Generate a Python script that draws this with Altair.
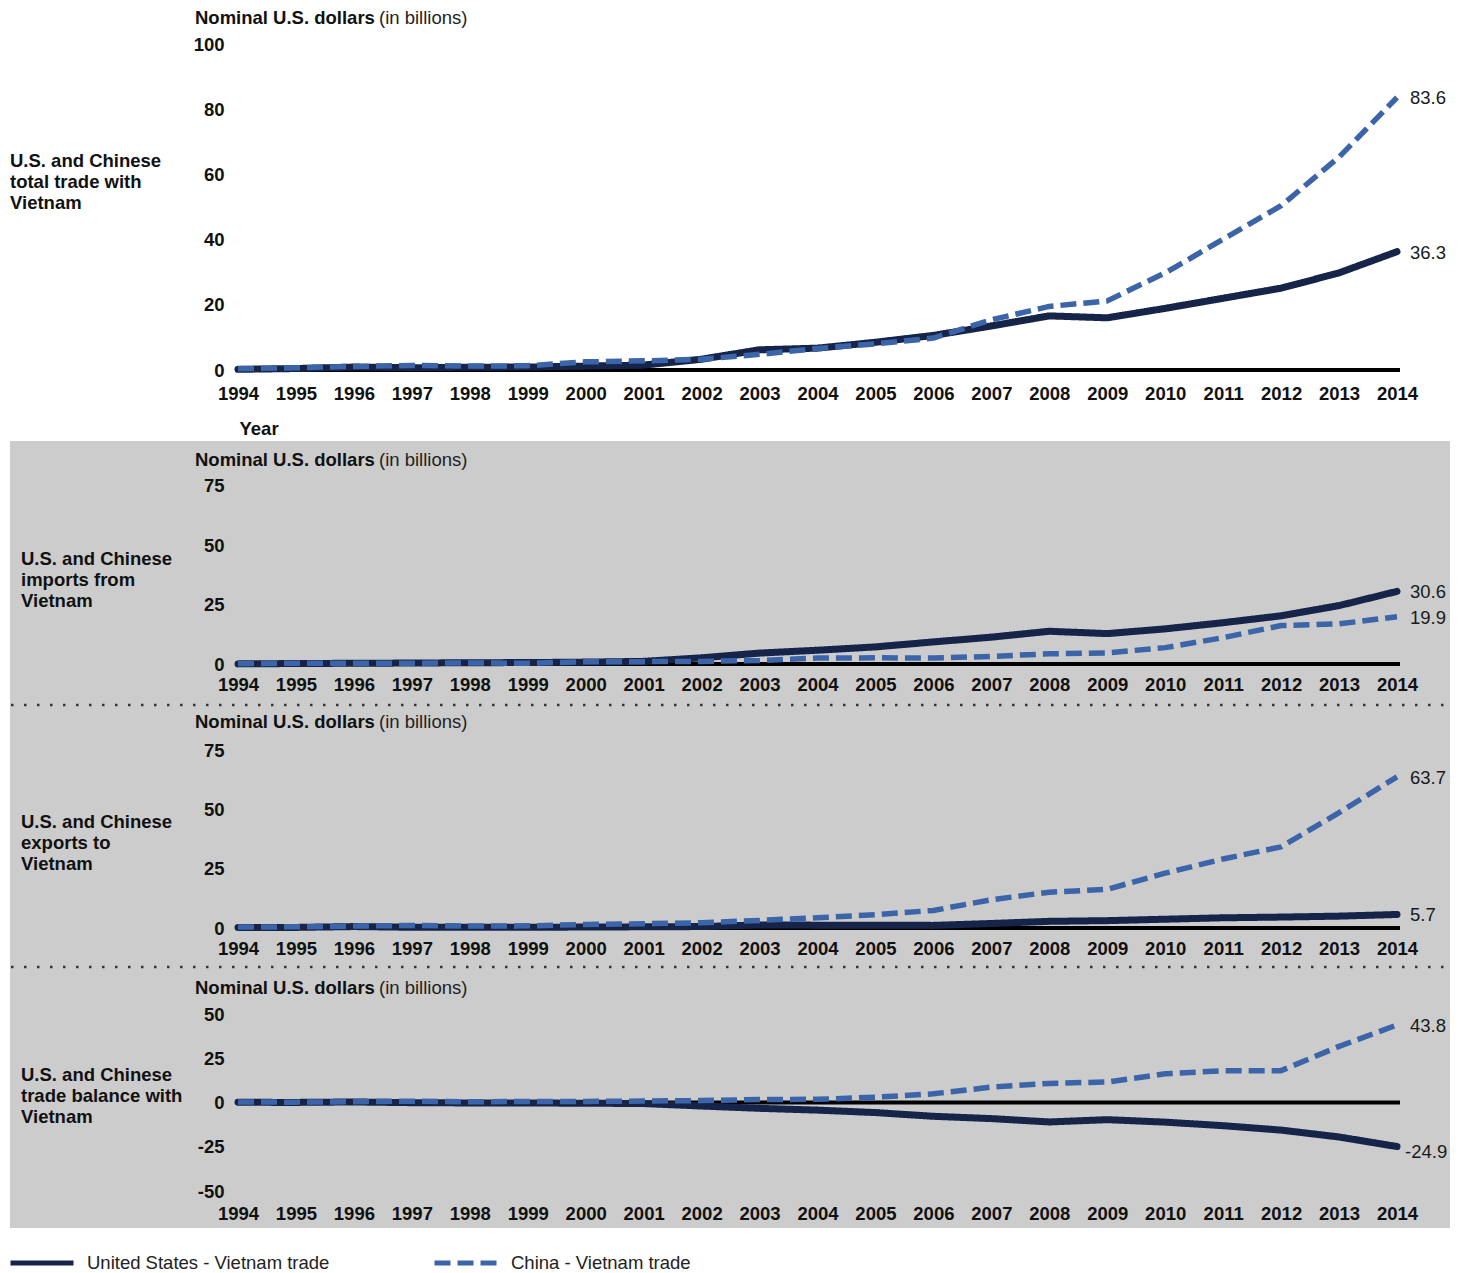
import altair as alt
import pandas as pd

FONT = "Liberation Sans"
FS = 18.5
US = "United States - Vietnam trade"
CN = "China - Vietnam trade"

years = list(range(1994, 2015))

total_us = [0.2, 0.45, 0.9, 0.7, 0.85, 0.9, 1.2, 1.5, 3.3, 6.2, 6.7, 8.5, 10.6, 13.5, 16.6, 16.0, 18.9, 22.0, 25.1, 29.8, 36.3]
total_cn = [0.4, 0.7, 1.1, 1.4, 1.2, 1.3, 2.5, 2.8, 3.3, 4.8, 6.6, 8.0, 9.8, 15.4, 19.5, 21.2, 29.8, 40.1, 50.4, 65.3, 83.6]

imports_us = [0.05, 0.2, 0.3, 0.4, 0.55, 0.6, 0.8, 1.1, 2.6, 4.6, 5.8, 7.2, 9.3, 11.3, 13.8, 12.8, 14.8, 17.4, 20.3, 24.6, 30.6]
imports_cn = [0.15, 0.3, 0.35, 0.35, 0.4, 0.35, 0.9, 1.0, 1.1, 1.5, 2.5, 2.6, 2.5, 3.2, 4.3, 4.7, 6.9, 11.1, 16.2, 16.9, 19.9]

exports_us = [0.17, 0.25, 0.6, 0.3, 0.3, 0.3, 0.4, 0.5, 0.6, 1.3, 1.2, 1.2, 1.1, 1.9, 2.8, 3.1, 3.7, 4.3, 4.6, 5.0, 5.7]
exports_cn = [0.4, 0.5, 0.8, 1.1, 0.8, 0.9, 1.5, 1.8, 2.2, 3.2, 4.3, 5.6, 7.4, 11.9, 15.1, 16.3, 23.1, 29.1, 34.2, 48.6, 63.7]

balance_us = [0.1, 0.05, 0.3, -0.1, -0.25, -0.3, -0.4, -0.6, -2.0, -3.3, -4.3, -5.7, -7.8, -9.1, -11.0, -9.7, -11.1, -13.1, -15.6, -19.5, -24.9]
balance_cn = [0.25, 0.2, 0.45, 0.75, 0.4, 0.55, 0.6, 0.8, 1.1, 1.7, 1.8, 3.0, 4.9, 8.7, 10.8, 11.6, 16.2, 18.0, 18.0, 31.7, 43.8]

panel_labels = [
    ["U.S. and Chinese", "total trade with", "Vietnam"],
    ["U.S. and Chinese", "imports from", "Vietnam"],
    ["U.S. and Chinese", "exports to", "Vietnam"],
    ["U.S. and Chinese", "trade balance with", "Vietnam"],
]

W = 1159
one = pd.DataFrame({"k": [0]})

color_scale = alt.Scale(domain=[US, CN], range=["#16244a", "#3b65a8"])
dash_scale = alt.Scale(domain=[US, CN], range=[[1, 0], [16, 7]])
legend = alt.Legend(
    orient="none", legendX=-230, legendY=215, direction="horizontal", title=None,
    symbolType="stroke", symbolSize=3969, symbolStrokeWidth=5,
    labelFont=FONT, labelFontSize=FS, labelColor="#222", labelOffset=11,
    labelLimit=0, columnPadding=94, padding=0,
)


def panel(us, cn, domain, height, ticks, title_y, lines, label_x, label_y,
          xpad, year_title=False, pre=None, show_legend=False):
    df_us = pd.DataFrame({"year": years, "value": us, "series": US})
    df_cn = pd.DataFrame({"year": years, "value": cn, "series": CN})
    common = dict(values=years, format="d", labelPadding=xpad, labelFlush=False,
                  labelOverlap=False, zindex=1)
    if year_title:
        xaxis = alt.Axis(title="Year", titleX=1, titleY=58, titleAlign="left",
                         titleBaseline="middle", titleFont=FONT, titleFontSize=FS,
                         titleFontWeight="bold", titleColor="#111", **common)
    else:
        xaxis = alt.Axis(title=None, **common)
    X = alt.X("year:Q", scale=alt.Scale(domain=[1994, 2014], nice=False, zero=False), axis=xaxis)
    Y = alt.Y("value:Q", scale=alt.Scale(domain=domain, nice=False, zero=False),
              axis=alt.Axis(values=ticks, title=None, labelPadding=14, zindex=1,
                            labelExpr="'' + datum.value"))
    lg = legend if show_legend else None
    col = alt.Color("series:N", scale=color_scale, legend=lg)
    dash = alt.StrokeDash("series:N", scale=dash_scale, legend=lg)

    layers = []
    if pre is not None:
        layers += pre
    layers.append(alt.Chart(one).mark_rule(color="black", strokeWidth=4).encode(
        x=alt.value(0), x2=alt.value(W + 3), y=alt.datum(0)))
    layers.append(alt.Chart(df_us).mark_line(strokeWidth=7, strokeCap="round", strokeJoin="round").encode(
        x=X, y=Y, color=col, strokeDash=dash))
    layers.append(alt.Chart(df_cn).mark_line(strokeWidth=5.5, strokeJoin="round").encode(
        x=X, y=Y, color=col, strokeDash=dash))
    end_vals = [us[-1], cn[-1]]
    pos = [v for v in end_vals if v >= 0]
    neg = [v for v in end_vals if v < 0]
    for vals, dx, dy in ((pos, 13, 1), (neg, 8, 5)):
        if not vals:
            continue
        ends = pd.DataFrame({"year": [2014] * len(vals), "value": vals,
                             "label": [f"{v:.1f}" for v in vals]})
        layers.append(alt.Chart(ends).mark_text(align="left", baseline="middle", dx=dx, dy=dy,
                                                font=FONT, fontSize=FS, color="#1a1a1a").encode(
            x=alt.X("year:Q"), y=alt.Y("value:Q"), text="label:N"))
    layers.append(alt.Chart(one).mark_text(align="left", baseline="middle", font=FONT, fontSize=FS,
                                           fontWeight="bold", color="#111",
                                           text="Nominal U.S. dollars").encode(
        x=alt.value(-43), y=alt.value(title_y)))
    layers.append(alt.Chart(one).mark_text(align="left", baseline="middle", font=FONT, fontSize=FS,
                                           color="#222", text="(in billions)").encode(
        x=alt.value(141), y=alt.value(title_y)))
    layers.append(alt.Chart(one).mark_text(align="left", baseline="middle", font=FONT, fontSize=FS,
                                           fontWeight="bold", color="#111", lineHeight=21,
                                           text=lines).encode(
        x=alt.value(label_x), y=alt.value(label_y)))
    return alt.layer(*layers).properties(width=W, height=height)


def sep(y):
    return alt.Chart(one).mark_rule(color="#333", strokeWidth=2.5, strokeDash=[2.5, 10.5]).encode(
        x=alt.value(-227), x2=alt.value(1212), y=alt.value(y))


white_bg = alt.Chart(one).mark_rect(color="white").encode(
    x=alt.value(-228), x2=alt.value(1212), y=alt.value(-36), y2=alt.value(397))
gray_bg = alt.Chart(one).mark_rect(color="#cccccc").encode(
    x=alt.value(-228), x2=alt.value(1212), y=alt.value(-15), y2=alt.value(772))

p1 = panel(total_us, total_cn, [0, 100], 326, [0, 20, 40, 60, 80, 100], -26,
           panel_labels[0], -228, 117, 14, year_title=True, pre=[white_bg])
p2 = panel(imports_us, imports_cn, [0, 87.64], 208, [0, 25, 50, 75], 4,
           panel_labels[1], -217, 103, 11, pre=[gray_bg])
p3 = panel(exports_us, exports_cn, [0, 75], 178, [0, 25, 50, 75], -28,
           panel_labels[2], -217, 72, 11, pre=[sep(-45)])
p4 = panel(balance_us, balance_cn, [-50, 50], 177, [-50, -25, 0, 25, 50], -26,
           panel_labels[3], -217, 61, 13, pre=[sep(-47)], show_legend=True)

chart = alt.vconcat(p1, p2, p3, p4, spacing=86, bounds="flush").resolve_scale(
    color="independent", strokeDash="independent"
).properties(
    padding=0, background="white"
).configure_view(stroke=None).configure_axis(
    labelFont=FONT, labelFontSize=FS, labelFontWeight="bold", labelColor="#111",
    domain=False, ticks=False, grid=False,
)

chart.save("out.html", embed_options={"renderer": "svg", "actions": False})
